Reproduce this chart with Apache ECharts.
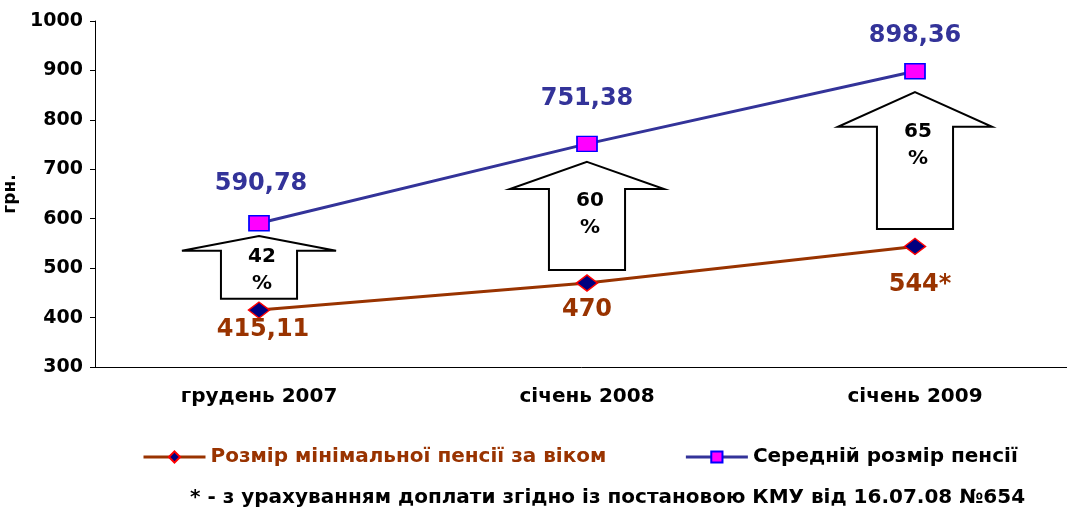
<!DOCTYPE html>
<html lang="uk">
<head>
<meta charset="utf-8">
<title>Пенсії</title>
<style>
  html, body { margin: 0; padding: 0; background: #fff; }
  #main { width: 1067px; height: 511px; }
</style>
</head>
<body>
<div id="main"></div>
<script src="https://cdn.jsdelivr.net/npm/echarts@6/dist/echarts.min.js"></script>
<script>
var categories = ['грудень 2007', 'січень 2008', 'січень 2009'];
var minPension = [415.11, 470, 544];
var avgPension = [590.78, 751.38, 898.36];
var minLabels = ['415,11', '470', '544*'];
var avgLabels = ['590,78', '751,38', '898,36'];
var growthLabels = ['42\n%', '60\n%', '65\n%'];
// arrow annotation: tip, shoulder, bottom (in грн.)
var arrowTip = [565, 715, 856];
var arrowShoulder = [535, 660, 786];
var arrowBottom = [438, 496, 579];

var fontFamily = '"DejaVu Sans", Arial, sans-serif';
var avgOffsets = [[2, -40], [0, -45], [0, -35]];
var minOffsets = [[4, 20], [0, 27], [5, 38]];
var arrowTextShift = [-8, -2, -8];

var arrowData = categories.map(function (c, i) {
  return [i, arrowTip[i], arrowShoulder[i], arrowBottom[i], growthLabels[i]];
});

var myChart = echarts.init(document.getElementById('main'));

option = {
  animation: false,
  grid: { left: 95, right: -12, top: 21, bottom: 144, outerBoundsMode: 'none', containLabel: false },
  legend: {
    left: 137,
    top: 442,
    itemWidth: 62,
    itemHeight: 14,
    itemGap: 78,
    textStyle: { fontFamily: fontFamily, fontWeight: 'bold', fontSize: 20 },
    data: [
      { name: 'Розмір мінімальної пенсії за віком', textStyle: { color: '#993300' }, lineStyle: { width: 3 } },
      { name: 'Середній розмір пенсії', textStyle: { color: '#000' }, lineStyle: { width: 3 } }
    ]
  },
  graphic: [{
    type: 'text',
    left: 190,
    top: 488,
    style: {
      text: '* - з урахуванням доплати згідно із постановою КМУ від 16.07.08 №654',
      font: 'bold 20px ' + fontFamily,
      fill: '#000'
    }
  }],
  xAxis: {
    type: 'category',
    data: categories,
    axisLine: { lineStyle: { color: '#000', width: 1 } },
    axisTick: { length: 6, lineStyle: { color: '#000' } },
    axisLabel: { margin: 20, color: '#000', fontFamily: fontFamily, fontWeight: 'bold', fontSize: 20 }
  },
  yAxis: {
    type: 'value',
    min: 300,
    max: 1000,
    interval: 100,
    name: 'грн.',
    nameLocation: 'middle',
    nameGap: 69,
    nameTextStyle: { color: '#000', fontFamily: fontFamily, fontWeight: 'bold', fontSize: 17 },
    splitLine: { show: false },
    axisLine: { show: true, lineStyle: { color: '#000', width: 1 } },
    axisTick: { show: true, length: 5, lineStyle: { color: '#000' } },
    axisLabel: {
      margin: 12, color: '#000', fontFamily: fontFamily, fontWeight: 'bold', fontSize: 19,
      formatter: function (v) { return String(v); }
    }
  },
  series: [
    {
      type: 'custom',
      name: 'arrows',
      z: 1,
      data: arrowData,
      renderItem: function (params, api) {
        var band = api.size([1, 0])[0];
        var tip = api.coord([api.value(0), api.value(1)]);
        var sh = api.coord([api.value(0), api.value(2)]);
        var bot = api.coord([api.value(0), api.value(3)]);
        var cx = tip[0];
        var head = band * 0.235, body = band * 0.116;
        return {
          type: 'group',
          children: [{
            type: 'polygon',
            shape: {
              points: [
                [cx, tip[1]], [cx + head, sh[1]], [cx + body, sh[1]], [cx + body, bot[1]],
                [cx - body, bot[1]], [cx - body, sh[1]], [cx - head, sh[1]]
              ]
            },
            style: { fill: '#fff', stroke: '#000', lineWidth: 2 }
          }, {
            type: 'text',
            x: cx + 3,
            y: sh[1] + arrowTextShift[params.dataIndex],
            style: {
              text: arrowData[params.dataIndex][4],
              font: 'bold 20px ' + fontFamily,
              fill: '#000',
              align: 'center',
              verticalAlign: 'top',
              lineHeight: 27
            }
          }]
        };
      }
    },
    {
      type: 'line',
      name: 'Розмір мінімальної пенсії за віком',
      z: 3,
      data: minPension.map(function (v, i) {
        return { value: v, label: { offset: minOffsets[i], formatter: minLabels[i] } };
      }),
      symbol: 'diamond',
      symbolSize: [21, 16],
      lineStyle: { color: '#993300', width: 3 },
      itemStyle: { color: '#000080', borderColor: '#ff0000', borderWidth: 1.5 },
      label: {
        show: true,
        position: 'inside',
        color: '#993300',
        fontFamily: fontFamily,
        fontWeight: 'bold',
        fontSize: 24
      }
    },
    {
      type: 'line',
      name: 'Середній розмір пенсії',
      z: 3,
      data: avgPension.map(function (v, i) {
        return { value: v, label: { offset: avgOffsets[i], formatter: avgLabels[i] } };
      }),
      symbol: 'rect',
      symbolSize: [20, 15],
      lineStyle: { color: '#333399', width: 3 },
      itemStyle: { color: '#ff00ff', borderColor: '#0000ff', borderWidth: 1.5 },
      label: {
        show: true,
        position: 'inside',
        color: '#333399',
        fontFamily: fontFamily,
        fontWeight: 'bold',
        fontSize: 24
      }
    }
  ]
};

myChart.setOption(option);
window.addEventListener('resize', function () {
  myChart.resize();
});
</script>
</body>
</html>
